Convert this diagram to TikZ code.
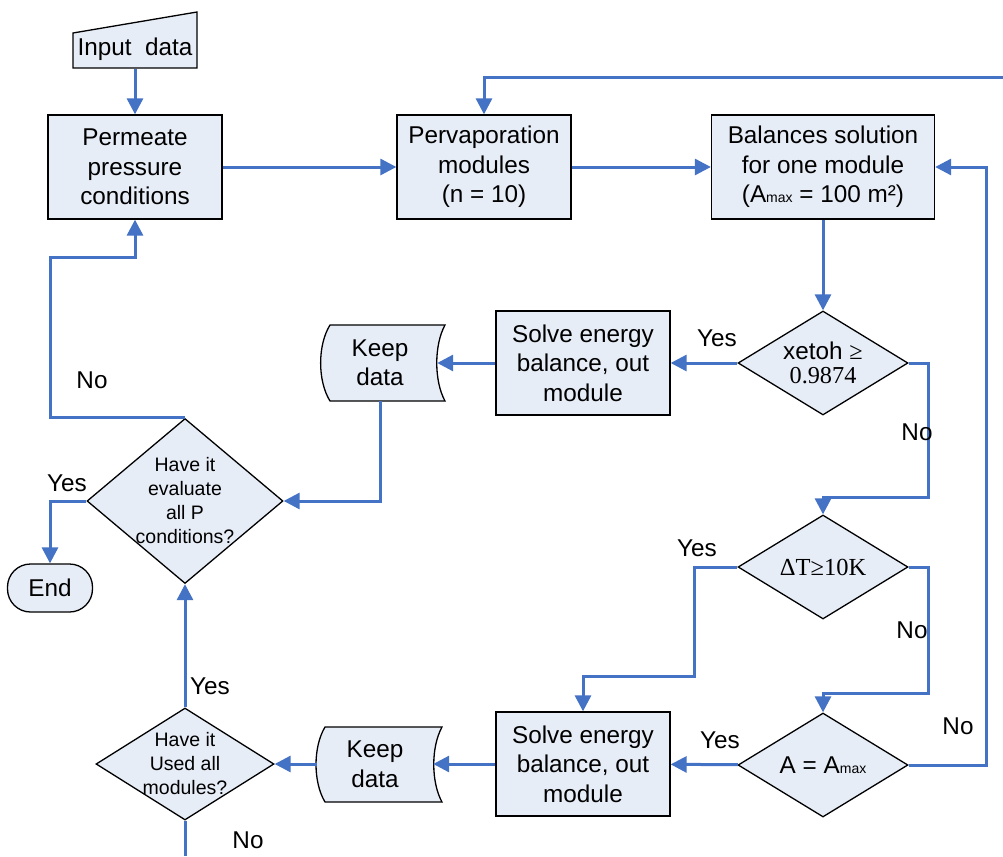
\documentclass[tikz,border=0pt]{standalone}
\usepackage{fontspec}
\setmainfont{Liberation Sans}
\newfontfamily\timesfont{Liberation Serif}
\usetikzlibrary{arrows.meta,shapes.geometric}

\definecolor{flowblue}{RGB}{68,114,196}
\definecolor{boxfill}{RGB}{231,237,247}
\newcommand{\smallsub}[1]{{\fontsize{14}{14}\selectfont #1}}

\tikzset{
  process/.style={draw=black, line width=1.3pt, fill=boxfill, minimum width=174pt,
    minimum height=104pt, align=center, inner sep=0pt},
  decision/.style={diamond, draw=black, line width=1.3pt, fill=boxfill, inner sep=0pt},
  dtext/.style={align=center, font=\fontsize{19.5}{24}\selectfont},
  keeptext/.style={minimum height=76pt, inner sep=0pt, align=center},
  outline/.style={draw=black, line width=1.3pt, fill=boxfill},
  flow/.style={draw=flowblue, line width=3pt, -{Triangle[length=16pt,width=16pt]}},
  plainflow/.style={draw=flowblue, line width=3pt},
  answer/.style={inner sep=0pt},
}

\begin{document}
\begin{tikzpicture}[x=1pt, y=-1pt, font=\fontsize{24.3}{29.5}\selectfont]
    \useasboundingbox (0,0) rectangle (1003,856);

    % input and top row
    \draw[outline] (73,68) -- (73,33) -- (197,12) -- (197,68) -- cycle;
    \node[minimum width=124pt, minimum height=40pt, inner sep=0pt] (input) at (135,49) {Input~ data};
    \node[process] (perm) at (135,167) {Permeate\\pressure\\conditions};
    \node[process] (perv) at (484,167) {Pervaporation\\modules\\(n = 10)};
    \node[process, minimum width=223pt] (bal) at (823,167) {Balances solution\\for one module\\(A\smallsub{max} = 100 m²)};

    % decisions on the right
    \node[decision, minimum width=170pt, minimum height=104pt,
      label={[align=center, font=\fontsize{24.3}{24}\selectfont]center:xetoh {\timesfont ≥}\\{\timesfont 0.9874}}] (xetoh) at (823,363) {};
    \node[decision, minimum width=170pt, minimum height=104pt,
      label={[font=\fontsize{24.5}{24}\timesfont]center:ΔT≥10K}] (dT) at (823,567) {};
    \node[decision, minimum width=170pt, minimum height=104pt,
      label={center:A = A\smallsub{max}}] (amax) at (823,765) {};

    % solve and keep
    \node[process] (solve1) at (583,363) {Solve energy\\balance, out\\module};
    \node[process] (solve2) at (583,764) {Solve energy\\balance, out\\module};

    \draw[outline] (330,325) -- (445,325) .. controls (434,345) and (434,381) .. (445,401)
      -- (330,401) .. controls (317.5,381) and (317.5,345) .. (330,325) -- cycle;
    \node[keeptext, minimum width=114pt] (keep1) at (380,363) {Keep\\data};
    \draw[outline] (325,727) -- (442,727) .. controls (431,747) and (431,782) .. (442,802)
      -- (325,802) .. controls (313,782) and (313,747) .. (325,727) -- cycle;
    \node[keeptext, minimum width=116pt] (keep2) at (375,764) {Keep\\data};

    % decisions on the left
    \node[decision, minimum width=196pt, minimum height=165pt,
      label={[dtext]center:Have it\\evaluate\\all P\\conditions?}] (eval) at (185,501) {};
    \node[decision, minimum width=178pt, minimum height=112pt,
      label={[dtext]center:Have it\\Used all\\modules?}] (used) at (185,764) {};
    \node[draw=black, line width=1.3pt, fill=boxfill, rounded corners=23pt,
      minimum width=85pt, minimum height=48pt, inner sep=0pt] (stop) at (50,588) {End};

    % connectors
    \coordinate (topin) at (1003,78);
    \coordinate (evalno) at (50,300);
    \coordinate (permin) at (135,257);
    \coordinate (xetohno) at (928,497);
    \coordinate (dTyes) at (694,676);
    \coordinate (dTno) at (928,693);
    \coordinate (amaxno) at (986,400);
    \coordinate (usedout) at (185,856);

    \draw[flow] (input) -- (perm);
    \draw[flow] (perm) -- (perv);
    \draw[flow] (perv) -- (bal);
    \draw[flow] (topin) -| (perv.north);
    \draw[flow] (bal) -- (xetoh);
    \draw[flow] (xetoh) -- (solve1);
    \draw[flow] (solve1) -- (keep1);
    \draw[flow] (keep1.south) |- (eval.east);
    \draw[flow] (eval.north) -| (evalno) |- (permin) -- (perm.south);
    \draw[flow] (eval.west) -| (stop.north);
    \draw[flow] (xetoh.east) -| (xetohno) -| (dT.north);
    \draw[flow] (dT.west) -| (dTyes) -| (solve2.north);
    \draw[flow] (dT.east) -| (dTno) -| (amax.north);
    \draw[flow] (amax) -- (solve2);
    \draw[flow] (amax.east) -| (amaxno) |- (bal.east);
    \draw[flow] (solve2) -- (keep2);
    \draw[flow] (keep2) -- (used);
    \draw[flow] (used) -- (eval);
    \draw[plainflow] (used.south) -- (usedout);

    % answers
    \node[answer] (yesxetoh) at (717,338) {Yes};
    \node[answer] (noxetoh) at (917,432) {No};
    \node[answer] (yesdT) at (697,548) {Yes};
    \node[answer] (nodT) at (912,630) {No};
    \node[answer] (yesamax) at (720,740) {Yes};
    \node[answer] (noamax) at (958,726) {No};
    \node[answer] (yeseval) at (67,483) {Yes};
    \node[answer] (noeval) at (92,380) {No};
    \node[answer] (yesused) at (210,686) {Yes};
    \node[answer] (noused) at (248,840) {No};
\end{tikzpicture}
\end{document}
